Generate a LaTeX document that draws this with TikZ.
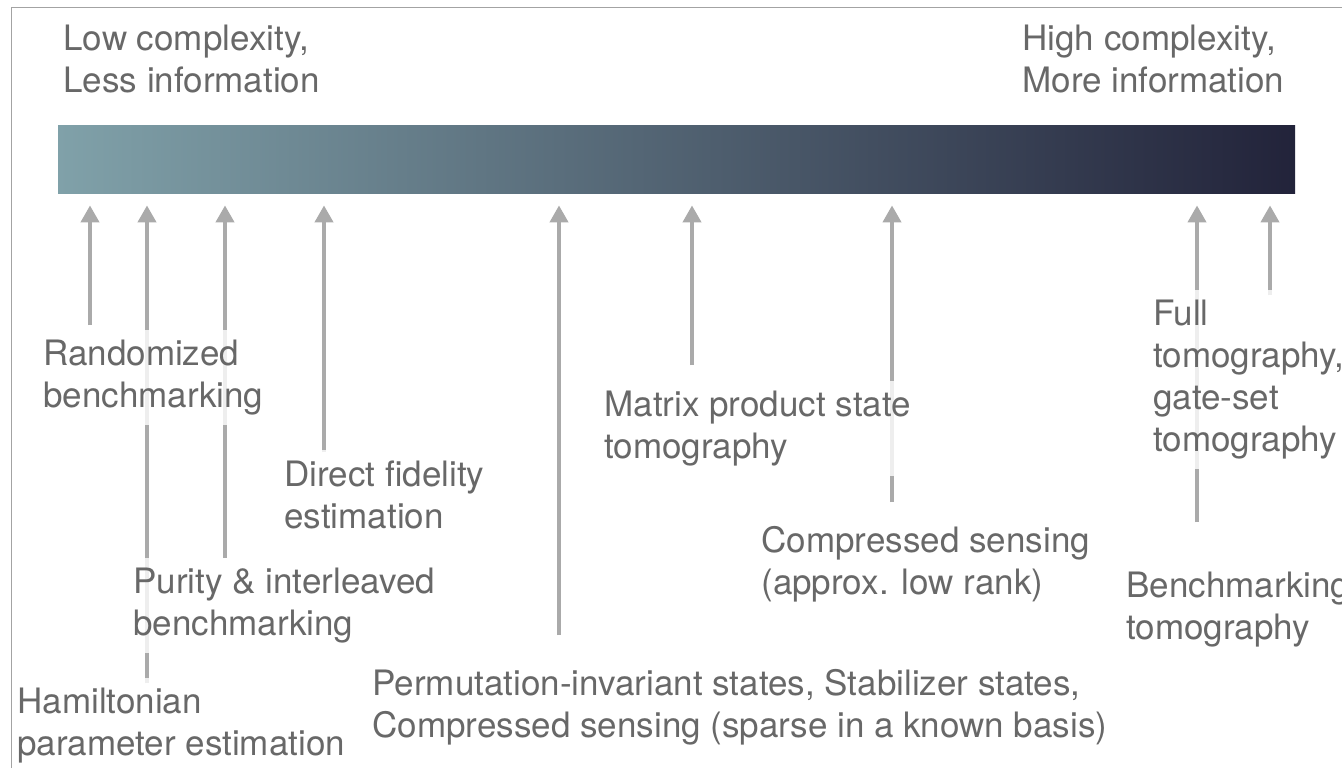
\documentclass[tikz,border=0pt]{standalone}
\usepackage{fontspec}
\setmainfont{TeX Gyre Heros}
\usepackage{tikz}
\usetikzlibrary{arrows.meta}
\usetikzlibrary{positioning}

\definecolor{textgray}{HTML}{686868}
\definecolor{arrowgray}{HTML}{AAAAAA}
\definecolor{framegray}{HTML}{A3A3A3}
\definecolor{barlight}{HTML}{80A1A9}
\definecolor{barmid}{HTML}{566773}
\definecolor{bardark}{HTML}{22233A}

\tikzstyle{arrow} = [line width=2pt, arrowgray,
    -{Triangle[width=9pt,length=8.5pt]}, shorten >=6pt]
% anchored at the baseline of the last line
\tikzstyle{method} = [
    anchor=base west, align=left, inner xsep=0pt, inner ysep=5pt,
    text=textgray, font=\fontsize{17.5pt}{21pt}\selectfont,
    fill=white, fill opacity=0.8, text opacity=1]
\tikzstyle{scalebar} = [
    rectangle, minimum width=618.5pt, minimum height=34pt, inner sep=0pt,
    left color=barlight, middle color=barmid, right color=bardark]

\begin{document}
\begin{tikzpicture}[x=0.5pt, y=-0.5pt]
\useasboundingbox (0,0) rectangle (1342,768);
\fill[white] (0,0) rectangle (1342,768);
\draw[framegray, line width=0.75pt] (11.5,768) -- (11.5,7.5) -- (1342,7.5);

% complexity scale
\node (scale) [scalebar] at (676.5,159) {};

\node (low) [method] at (63,92) {Low complexity,\\Less information};
\node (high) [method] at (1022,92) {High complexity,\\More information};

% lower ends of the arrows
\coordinate (rb-end) at (90,325);
\coordinate (ham-end) at (147,683);
\coordinate (pur-end) at (225,558);
\coordinate (dfe-end) at (324,452);
\coordinate (perm-end) at (559,635);
\coordinate (mps-end) at (692,365);
\coordinate (cs-end) at (892,502);
\coordinate (bt-end) at (1197,522);
\coordinate (full-end) at (1270,295);

\draw [arrow] (rb-end) -- (rb-end |- scale.south);
\draw [arrow] (ham-end) -- (ham-end |- scale.south);
\draw [arrow] (pur-end) -- (pur-end |- scale.south);
\draw [arrow] (dfe-end) -- (dfe-end |- scale.south);
\draw [arrow] (perm-end) -- (perm-end |- scale.south);
\draw [arrow] (mps-end) -- (mps-end |- scale.south);
\draw [arrow] (cs-end) -- (cs-end |- scale.south);
\draw [arrow] (bt-end) -- (bt-end |- scale.south);
\draw [arrow] (full-end) -- (full-end |- scale.south);

% methods, laid over the arrows
\node (rb) [method] at (43,407) {Randomized\\benchmarking};
\node (ham) [method] at (17,755) {Hamiltonian\\parameter estimation};
\node (pur) [method] at (133,635) {Purity \& interleaved\\benchmarking};
\node (dfe) [method] at (284,528) {Direct fidelity\\estimation};
\node (perm) [method] at (372,737) {Permutation-invariant states, Stabilizer states,\\Compressed sensing (sparse in a known basis)};
\node (mps) [method] at (604,458) {Matrix product state\\tomography};
\node (cs) [method] at (761,594) {Compressed sensing\\(approx. low rank)};
\node (full) [method] at (1153,451) {Full\\tomography,\\gate-set\\tomography};
\node (bt) [method] at (1126,639) {Benchmarking\\tomography};
\end{tikzpicture}
\end{document}
